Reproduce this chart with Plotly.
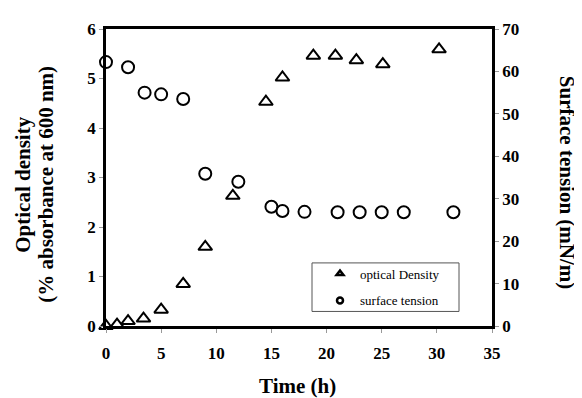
import plotly.graph_objects as go

# Optical density (left axis)
od_time = [0, 1, 2, 3.4, 5, 7, 9, 11.5, 14.5, 16, 18.8, 20.8, 22.7, 25.1, 30.2]
od_value = [0, 0.03, 0.1, 0.15, 0.33, 0.85, 1.6, 2.63, 4.53, 5.02, 5.46, 5.46, 5.37, 5.29, 5.59]

# Surface tension (right axis)
st_time = [0, 2, 3.5, 5, 7, 9, 12, 15, 16, 18, 21, 23, 25, 27, 31.5]
st_value = [62.2, 61.0, 55.0, 54.6, 53.5, 35.9, 34.0, 28.1, 27.1, 26.9, 26.8, 26.8, 26.8, 26.8, 26.8]

x_ticks = [0, 5, 10, 15, 20, 25, 30, 35]
left_ticks = [0, 1, 2, 3, 4, 5, 6]
right_ticks = [0, 10, 20, 30, 40, 50, 60, 70]

FONT = "Liberation Serif, Times New Roman, serif"
TITLE = 21

# page has an 8px body margin, so the figure is 8px smaller than the window
PL, PB, PW, PH = 106, 326, 386, 306  # plot area left / bottom / width / height (page px)


def px(x):
    return (x - PL) / PW


def py(y):
    return (PB - y) / PH


fig = go.Figure()
fig.add_trace(go.Scatter(
    x=od_time, y=od_value, mode="markers", name="optical Density",
    marker=dict(symbol="triangle-up-open", size=12, color="black", line=dict(width=2)),
    cliponaxis=False, showlegend=False, yaxis="y"))
fig.add_trace(go.Scatter(
    x=st_time, y=st_value, mode="markers", name="surface tension",
    marker=dict(symbol="circle-open", size=12, color="black", line=dict(width=2)),
    cliponaxis=False, showlegend=False, yaxis="y2"))
# legend entries
fig.add_trace(go.Scatter(
    x=[None], y=[None], mode="markers", name="optical Density", legendgroup="a",
    marker=dict(symbol="triangle-up-open", size=6, color="black", line=dict(width=2.5))))
fig.add_trace(go.Scatter(
    x=[None], y=[None], mode="markers", name="surface tension", legendgroup="b",
    marker=dict(symbol="circle-open", size=6, color="black", line=dict(width=2.5))))

axis_common = dict(showgrid=False, zeroline=False, showline=True, linecolor="black",
                   linewidth=2.5, ticks="outside", ticklen=4, tickcolor="#999999",
                   tickfont=dict(family=FONT, size=17, color="black", weight="bold"))

fig.update_layout(
    width=574, height=390,
    margin=dict(l=98, r=90, t=12, b=72),
    paper_bgcolor="white", plot_bgcolor="white",
    font=dict(family=FONT, color="black"),
    xaxis=dict(range=[0, 35], tickvals=x_ticks, mirror=True, ticklabelstandoff=6,
               **axis_common),
    yaxis=dict(range=[0, 6], tickvals=left_ticks, **axis_common),
    yaxis2=dict(range=[0, 70], tickvals=right_ticks, overlaying="y", side="right",
                **axis_common),
    legend=dict(x=px(320), y=py(256.5), xanchor="left", yanchor="top",
                borderwidth=0, bgcolor="rgba(0,0,0,0)",
                font=dict(family=FONT, size=13, color="black"),
                traceorder="grouped", tracegroupgap=7),
    shapes=[dict(type="rect", xref="paper", yref="paper",
                 x0=px(312), x1=px(459), y0=py(311), y1=py(261),
                 line=dict(color="#555555", width=1), fillcolor="white", layer="below")],
    annotations=[
        dict(text="<b>Optical density</b>", xref="paper", yref="paper",
             x=px(23), y=py(180.5), xanchor="center", yanchor="middle",
             textangle=-90, showarrow=False, font=dict(family=FONT, size=TITLE)),
        dict(text="<b>(% absorbance at 600 nm)</b>", xref="paper", yref="paper",
             x=px(46), y=py(180.5), xanchor="center", yanchor="middle",
             textangle=-90, showarrow=False, font=dict(family=FONT, size=TITLE)),
        dict(text="<b>Surface tension (mN/m)</b>", xref="paper", yref="paper",
             x=px(567), y=py(177.5), xanchor="center", yanchor="middle",
             textangle=90, showarrow=False, font=dict(family=FONT, size=TITLE)),
        dict(text="<b>Time (h)</b>", xref="paper", yref="paper",
             x=px(297.5), y=py(388), xanchor="center", yanchor="middle",
             showarrow=False, font=dict(family=FONT, size=TITLE)),
    ],
)

fig.write_html("out.html")
